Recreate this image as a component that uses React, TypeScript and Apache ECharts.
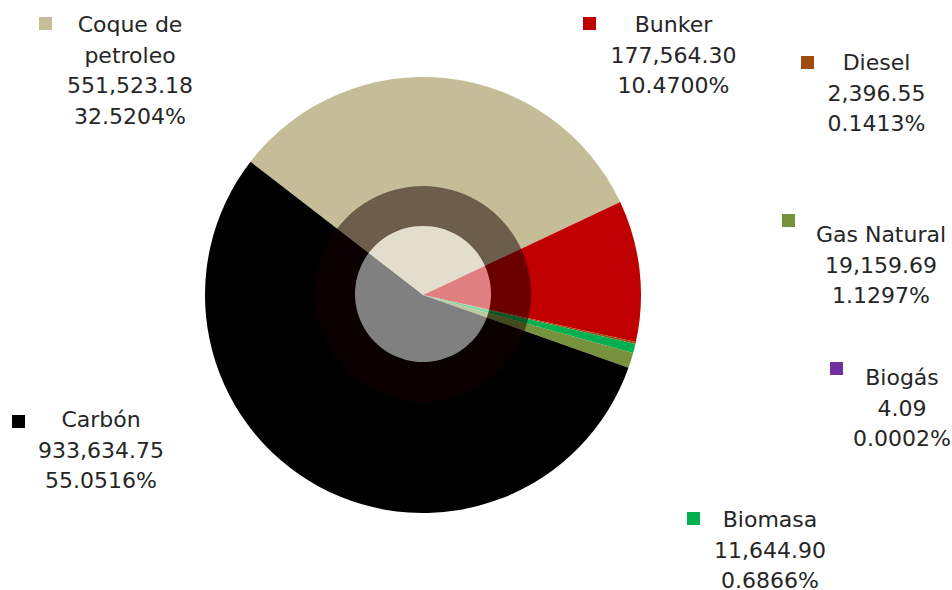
import { useEffect, useRef } from "react";
import * as echarts from "echarts";

// ---- Data ----
const categories = ["Coque de petroleo", "Bunker", "Diesel", "Biogás", "Biomasa", "Gas Natural", "Carbón"];
const values = [551523.18, 177564.3, 2396.55, 4.09, 11644.9, 19159.69, 933634.75];

// ---- Styles ----
const COLORS = ["#C4BD97", "#C00000", "#A04C10", "#7030A0", "#00B050", "#76923C", "#000000"];

// label text block: [center x, top y]
const TEXT_POS: number[][] = [
  [130, 9],
  [673.5, 9],
  [876.5, 47],
  [902, 362],
  [770, 504],
  [881, 219],
  [101, 404],
];
// legend key square: [left x, top y]
const KEY_POS: number[][] = [
  [39, 17],
  [583, 17],
  [801, 56],
  [830, 362],
  [687, 512],
  [782, 214],
  [12, 415],
];

const FONT = "DejaVu Sans";
const CENTER = [423, 295];
const RADIUS = 218;

function wrapName(n: string): string {
  if (n.length > 12) {
    const i = n.lastIndexOf(" ");
    if (i > 0) return n.slice(0, i) + "\n" + n.slice(i + 1);
  }
  return n;
}

export default function App() {
  const ref = useRef<HTMLDivElement>(null);
  useEffect(() => {
    if (!ref.current) return;
    const chart = echarts.init(ref.current, null, { renderer: "svg" });
    const total = values.reduce((a, b) => a + b, 0);
    const data = categories.map((name, i) => ({ name, value: values[i] }));

    chart.setOption({
      animation: false,
      backgroundColor: "#ffffff",
      color: COLORS,
      series: [
        {
          type: "pie",
          center: CENTER,
          radius: [0, RADIUS],
          startAngle: 142.3,
          clockwise: true,
          avoidLabelOverlap: false,
          silent: true,
          data,
          itemStyle: { borderWidth: 0 },
          emphasis: { disabled: true },
          labelLine: { show: false },
          label: {
            show: true,
            position: "outside",
            fontFamily: FONT,
            fontSize: 22,
            lineHeight: 30.7,
            color: "#262626",
            align: "center",
            formatter: (p: any) => {
              const v = Number(p.value);
              const val = v.toLocaleString("en-US", { minimumFractionDigits: 2, maximumFractionDigits: 2 });
              const pct = ((v / total) * 100).toFixed(4) + "%";
              return `${wrapName(p.name)}\n${val}\n${pct}`;
            },
          },
          labelLayout: (params: any) => {
            const p = TEXT_POS[params.dataIndex];
            return { x: p[0], y: p[1], align: "center", verticalAlign: "top" };
          },
        },
        {
          type: "pie",
          center: [CENTER[0], CENTER[1] - 1],
          radius: [68, 108],
          silent: true,
          emphasis: { disabled: true },
          label: { show: false },
          labelLine: { show: false },
          data: [{ name: "ring", value: 1, itemStyle: { color: "rgba(20,0,0,0.5)" } }],
        },
        {
          type: "pie",
          center: [CENTER[0], CENTER[1] - 1],
          radius: [0, 68],
          silent: true,
          emphasis: { disabled: true },
          label: { show: false },
          labelLine: { show: false },
          data: [{ name: "core", value: 1, itemStyle: { color: "rgba(255,255,255,0.5)" } }],
        },
        {
          type: "pie",
          center: CENTER,
          radius: [0, RADIUS],
          startAngle: 142.3,
          silent: true,
          avoidLabelOverlap: false,
          emphasis: { disabled: true },
          itemStyle: { color: "rgba(0,0,0,0)", borderWidth: 0 },
          labelLine: { show: false },
          data: categories.map((name, i) => ({
            name,
            value: values[i],
            label: { backgroundColor: COLORS[i] },
          })),
          label: {
            show: true,
            position: "outside",
            formatter: " ",
            fontSize: 1,
            width: 13,
            height: 13,
            padding: 0,
          },
          labelLayout: (params: any) => {
            const p = KEY_POS[params.dataIndex];
            return { x: p[0], y: p[1], align: "left", verticalAlign: "top" };
          },
        },
      ],
    });
    return () => chart.dispose();
  }, []);

  return (
    <div
      ref={ref}
      style={{ position: "fixed", left: 0, top: 0, width: 952, height: 590 }}
    />
  );
}
